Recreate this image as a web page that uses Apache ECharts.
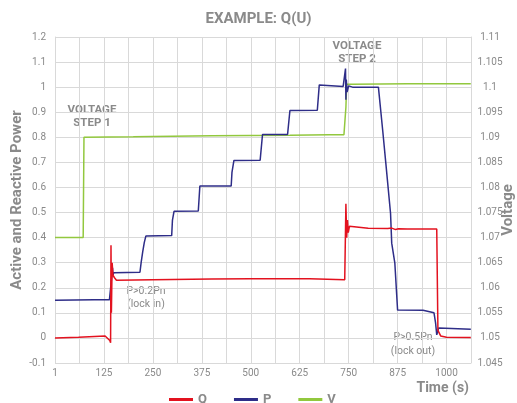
<!DOCTYPE html>
<html>
<head>
<meta charset="utf-8">
<script src="https://cdn.jsdelivr.net/npm/echarts@6/dist/echarts.min.js"></script>
<style>
html,body{margin:0;padding:0;background:#fff;}
#chart{width:517px;height:403px;}
</style>
</head>
<body>
<div id="chart"></div>
<script>
// ---- Data ----
const xTickLabels = ['1', '125', '250', '375', '500', '625', '750', '875', '1000'];

const qTime = [0, 60, 128, 140, 142, 143, 144, 146, 148, 152, 157, 250, 400, 500, 650, 740, 741, 743, 745, 747, 749, 752, 755, 800, 850, 855, 860, 870, 877, 900, 975, 978, 985, 1000, 1062];
const qValue = [0, 0.003, 0.008, -0.01, -0.019, 0.37, 0.10, 0.30, 0.25, 0.24, 0.23, 0.232, 0.235, 0.236, 0.236, 0.232, 0.235, 0.535, 0.40, 0.47, 0.42, 0.445, 0.438, 0.437, 0.436, 0.43, 0.438, 0.432, 0.435, 0.434, 0.434, 0.03, 0.008, 0.003, 0.002];

const pTime = [0, 100, 139, 146, 147, 148, 150, 217, 220, 224, 228, 232, 298, 300, 304, 366, 370, 450, 452, 457, 524, 530, 594, 600, 670, 675, 736, 738, 740, 742, 743, 744, 746, 750, 760, 800, 826, 837, 845, 857, 860, 868, 875, 880, 940, 968, 972, 975, 980, 983, 1062];
const pValue = [0.15, 0.152, 0.152, 0.26, 0.28, 0.25, 0.26, 0.262, 0.30, 0.343, 0.38, 0.406, 0.408, 0.47, 0.505, 0.506, 0.606, 0.606, 0.66, 0.708, 0.709, 0.811, 0.811, 0.907, 0.908, 1.009, 1.003, 1.0, 1.01, 1.074, 0.95, 1.03, 0.98, 1.005, 1.0, 1.0, 1.0, 0.827, 0.696, 0.497, 0.378, 0.298, 0.111, 0.106, 0.11, 0.10, 0.06, 0.012, 0.04, 0.036, 0.035];

const vTime = [0, 72, 74, 200, 400, 600, 700, 738, 741, 743, 745, 760, 900, 1062];
const vValue = [1.07, 1.07, 1.09, 1.0901, 1.0903, 1.0904, 1.0905, 1.0905, 1.0903, 1.096, 1.1006, 1.1006, 1.1007, 1.1007];

function pairs(ts, vs) { return ts.map((t, i) => [t, vs[i]]); }

const gray = '#8a8a8a';
const gridColor = '#d9d9d9';

const chart = echarts.init(document.getElementById('chart'));
chart.setOption({
  backgroundColor: '#fff',
  animation: false,
  title: {
    text: 'EXAMPLE: Q(U)',
    left: 'center',
    top: 7,
    textStyle: { fontFamily: 'Roboto', fontWeight: 'bold', fontSize: 15, color: gray }
  },
  grid: { left: 55, right: 46, top: 37, bottom: 40 },
  legend: {
    data: ['Q', 'P', 'V'],
    left: 164,
    top: 388,
    icon: 'rect',
    itemWidth: 24,
    itemHeight: 3,
    itemGap: 27,
    textStyle: { fontFamily: 'Roboto', fontWeight: 'bold', fontSize: 13, color: gray }
  },
  xAxis: {
    type: 'value',
    min: 0,
    max: 1062.5,
    interval: 62.5,
    axisLine: { show: true, lineStyle: { color: gridColor } },
    axisTick: { show: false },
    splitLine: { show: true, lineStyle: { color: gridColor, width: 1 } },
    axisLabel: {
      margin: 5,
      fontFamily: 'Roboto', fontSize: 10, color: gray,
      formatter: function (v) {
        if (v % 125 === 0) {
          const idx = v / 125;
          return xTickLabels[idx] !== undefined ? xTickLabels[idx] : '';
        }
        return '';
      }
    }
  },
  yAxis: [
    {
      type: 'value',
      min: -0.1,
      max: 1.2,
      interval: 0.1,
      position: 'left',
      axisLine: { show: true, lineStyle: { color: gridColor } },
      axisTick: { show: false },
      splitLine: { show: true, lineStyle: { color: gridColor } },
      axisLabel: {
        margin: 9, fontFamily: 'Roboto', fontSize: 10, color: gray,
        formatter: v => String(+v.toFixed(2))
      }
    },
    {
      type: 'value',
      min: 1.045,
      max: 1.11,
      interval: 0.005,
      position: 'right',
      axisLine: { show: true, lineStyle: { color: gridColor } },
      axisTick: { show: false },
      splitLine: { show: false },
      axisLabel: {
        margin: 19, align: 'center', fontFamily: 'Roboto', fontSize: 10, color: gray,
        formatter: v => String(+v.toFixed(3))
      }
    }
  ],
  graphic: [
    { type: 'text', x: 17, y: 200, rotation: Math.PI / 2,
      style: { text: 'Active and Reactive Power', fill: gray, font: 'bold 15px Roboto', textAlign: 'center', textVerticalAlign: 'middle' } },
    { type: 'text', x: 508, y: 210, rotation: Math.PI / 2,
      style: { text: 'Voltage', fill: gray, font: 'bold 15px Roboto', textAlign: 'center', textVerticalAlign: 'middle' } },
    { type: 'text', x: 469, y: 388,
      style: { text: 'Time (s)', fill: gray, font: 'bold 14px Roboto', textAlign: 'right', textVerticalAlign: 'middle' } },
    { type: 'text', x: 92, y: 117,
      style: { text: 'VOLTAGE\nSTEP 1', fill: gray, font: 'bold 11.5px Roboto', textAlign: 'center', textVerticalAlign: 'middle', lineHeight: 13 } },
    { type: 'text', x: 357, y: 53,
      style: { text: 'VOLTAGE\nSTEP 2', fill: gray, font: 'bold 11.5px Roboto', textAlign: 'center', textVerticalAlign: 'middle', lineHeight: 13 } },
    { type: 'text', x: 146, y: 298,
      style: { text: 'P>0.2Pn\n(lock in)', fill: gray, font: '10.5px Roboto', textAlign: 'center', textVerticalAlign: 'middle', lineHeight: 13 } },
    { type: 'text', x: 413, y: 344,
      style: { text: 'P>0.5Pn\n(lock out)', fill: gray, font: '10.5px Roboto', textAlign: 'center', textVerticalAlign: 'middle', lineHeight: 14 } }
  ],
  series: [
    {
      name: 'V', type: 'line', yAxisIndex: 1, showSymbol: false, symbol: 'none',
      data: pairs(vTime, vValue),
      lineStyle: { color: '#92c83e', width: 1.5 }, itemStyle: { color: '#92c83e' }, z: 2
    },
    {
      name: 'P', type: 'line', yAxisIndex: 0, showSymbol: false, symbol: 'none',
      data: pairs(pTime, pValue),
      lineStyle: { color: '#2e2d88', width: 1.5 }, itemStyle: { color: '#2e2d88' }, z: 3
    },
    {
      name: 'Q', type: 'line', yAxisIndex: 0, showSymbol: false, symbol: 'none',
      data: pairs(qTime, qValue),
      lineStyle: { color: '#e3121f', width: 1.5 }, itemStyle: { color: '#e3121f' }, z: 4
    }
  ]
});
</script>
</body>
</html>
